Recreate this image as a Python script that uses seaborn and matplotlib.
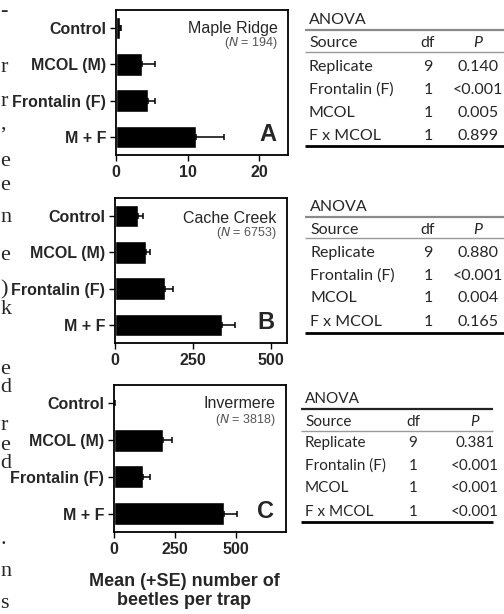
import numpy as np
import pandas as pd
import matplotlib
matplotlib.use("Agg")
import matplotlib.pyplot as plt
import seaborn as sns

sns.set_style("white")
plt.rcParams['font.family'] = ['Liberation Sans', 'DejaVu Sans']

treatments = ["Control", "MCOL (M)", "Frontalin (F)", "M + F"]

sites = ["Maple Ridge", "Cache Creek", "Invermere"]
site_n = [194, 6753, 3818]
panel_letters = ["A", "B", "C"]

means_A = [0.5, 3.6, 4.5, 11.2]
se_A = [0.25, 1.8, 1.0, 3.9]
means_B = [75, 100, 161, 345]
se_B = [16, 13, 27, 41]
means_C = [2, 202, 119, 449]
se_C = [1, 34, 28, 55]

xlims = [24, 553, 705]
xticks = [[0, 10, 20], [0, 250, 500], [0, 250, 500]]

anova_sources = ["Replicate", "Frontalin (F)", "MCOL", "F x MCOL"]
anova_df = [9, 1, 1, 1]
p_A = ["0.140", "<0.001", "0.005", "0.899"]
p_B = ["0.880", "<0.001", "0.004", "0.165"]
p_C = ["0.381", "<0.001", "<0.001", "<0.001"]

# letters of the page text showing at the left edge
edge_chars = ["-", "r", "r", ",", "e", "e", "n", "e", ")", "k", "e", "d", "r", "e", "d", ".", "n", "s"]
edge_y = [12, 67, 102, 124, 162, 185, 218, 255, 290, 310, 370, 388, 425, 445, 463, 540, 572, 604]

W, H = 504, 614
fig = plt.figure(figsize=(W / 100, H / 100), dpi=100)

# axes boxes in pixels: left, top, right, bottom
boxes = [(116, 10, 288, 155), (115, 198, 287, 343), (114, 385, 286, 532)]
all_means = [means_A, means_B, means_C]
all_se = [se_A, se_B, se_C]
title_y = [(0.875, 0.77), (0.86, 0.76), (0.875, 0.765)]

for i, (l, t, r, b) in enumerate(boxes):
    ax = fig.add_axes([l / W, 1 - b / H, (r - l) / W, (b - t) / H])
    df = pd.DataFrame({"treatment": treatments, "mean": all_means[i]})
    sns.barplot(data=df, x="mean", y="treatment", color="black", width=0.62,
                errorbar=None, ax=ax, saturation=1)
    ax.errorbar(all_means[i], np.arange(4), xerr=[np.zeros(4), all_se[i]],
                fmt="none", ecolor="black", elinewidth=1.1, capsize=2.5, capthick=1.1)
    ax.set_xlim(0, xlims[i])
    ax.set_ylim(3.5, -0.5)
    ax.set_xticks(xticks[i])
    ax.set_xlabel("")
    ax.set_ylabel("")
    for s in ax.spines.values():
        s.set_visible(True)
        s.set_color("black")
        s.set_linewidth(1.3)
    ax.tick_params(axis="both", direction="out", length=4, width=1, color="black",
                   left=True, bottom=True, pad=3)
    for lab in ax.get_yticklabels() + ax.get_xticklabels():
        lab.set_fontweight("bold")
        lab.set_fontsize(11.5)
    ax.text(0.94, title_y[i][0], sites[i], transform=ax.transAxes, ha="right", va="center",
            fontsize=11.5)
    ax.text(0.94, title_y[i][1], f"($N$ = {site_n[i]})", transform=ax.transAxes, ha="right",
            va="center", fontsize=9, color="#555555")
    ax.text(0.93, 0.14, panel_letters[i], transform=ax.transAxes, ha="right",
            va="center", fontsize=17, fontweight="bold")

fig.text(184 / W, 1 - 591 / H, "Mean (+SE) number of\nbeetles per trap", ha="center",
         va="center", fontsize=13, fontweight="bold", linespacing=1.15)

# overlay in pixel coordinates for tables and edge letters
ov = fig.add_axes([0, 0, 1, 1])
ov.set_xlim(0, W)
ov.set_ylim(H, 0)
ov.axis("off")
ov.patch.set_alpha(0)

tables = [
    dict(p=p_A, x0=309, lx=305, lx2=504, xdf=428, xp=478, y=[20, 30, 43, 52, 67, 90, 113, 136, 146], top="#8a8a8a", fs=11.5),
    dict(p=p_B, x0=310, lx=305, lx2=504, xdf=428, xp=478, y=[207, 217, 230, 238, 253, 276, 298, 322, 333], top="#8a8a8a", fs=11.5),
    dict(p=p_C, x0=305, lx=301, lx2=493, xdf=413, xp=475, y=[399, 409, 422, 431, 443, 466, 488, 512, 522], top="#222222", fs=11),
]
tfont = ["Lato", "DejaVu Sans"]
for tb in tables:
    y = tb["y"]
    fs = tb["fs"]
    ov.text(tb["x0"], y[0], "ANOVA", ha="left", va="center", fontsize=fs, family=tfont)
    ov.plot([tb["lx"], tb["lx2"]], [y[1], y[1]], color=tb["top"], lw=1.6, solid_capstyle="butt")
    ov.text(tb["x0"], y[2], "Source", ha="left", va="center", fontsize=fs, family=tfont)
    ov.text(tb["xdf"], y[2], "df", ha="center", va="center", fontsize=fs, family=tfont)
    ov.text(tb["xp"], y[2], "P", ha="center", va="center", fontsize=fs, family=tfont, style="italic")
    ov.plot([tb["lx"], tb["lx2"]], [y[3], y[3]], color="#9a9a9a", lw=1.0, solid_capstyle="butt")
    for k in range(4):
        ov.text(tb["x0"], y[4 + k], anova_sources[k], ha="left", va="center", fontsize=fs, family=tfont)
        ov.text(tb["xdf"], y[4 + k], str(anova_df[k]), ha="center", va="center", fontsize=fs, family=tfont)
        ov.text(tb["xp"], y[4 + k], tb["p"][k], ha="center", va="center", fontsize=fs, family=tfont)
    ov.plot([tb["lx"], tb["lx2"]], [y[8], y[8]], color="black", lw=2.0, solid_capstyle="butt")

for ch, yy in zip(edge_chars, edge_y):
    ov.text(0.5, yy, ch, ha="left", va="center", fontsize=16, family=["Liberation Serif", "DejaVu Serif"])

fig.savefig("out.png", dpi=100)
